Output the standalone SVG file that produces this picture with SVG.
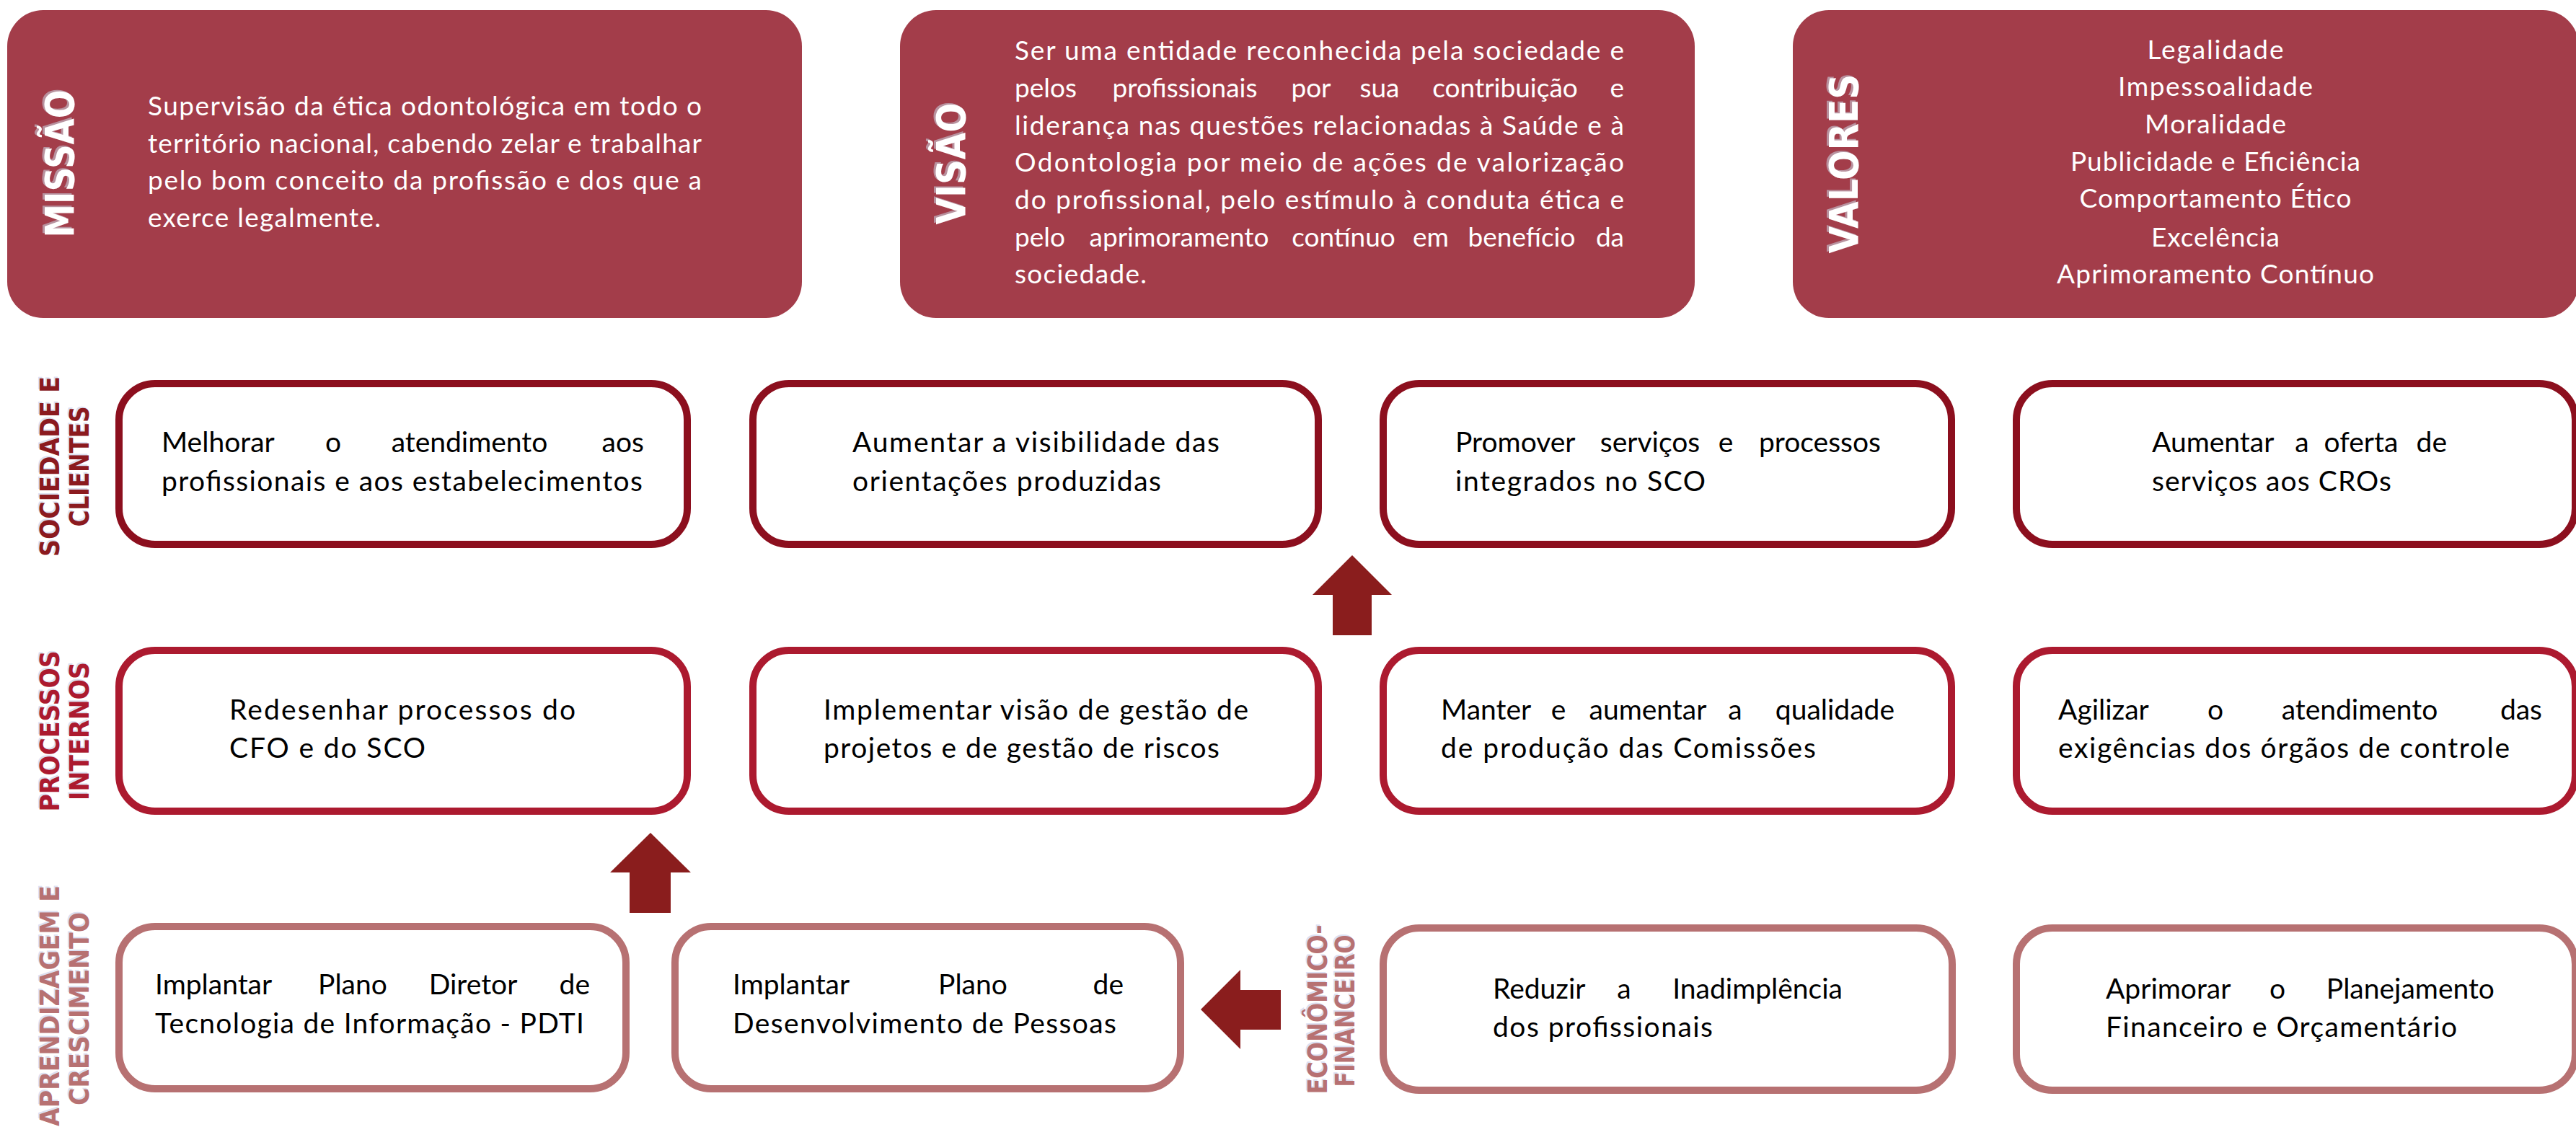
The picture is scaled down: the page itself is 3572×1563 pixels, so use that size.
<svg xmlns="http://www.w3.org/2000/svg" width="3572" height="1563" viewBox="0 0 3572 1563">
<style>
.top{fill:#A33D4A}
.b1{fill:#fff;stroke:#8C0F1E;stroke-width:10}
.b2{fill:#fff;stroke:#AC1A2F;stroke-width:10}
.b3{fill:#fff;stroke:#B77172;stroke-width:10}
.tw{font-family:Lato,"Open Sans","Liberation Sans",sans-serif;font-size:37px;fill:#fff}
.tb{font-family:Lato,"Open Sans","Liberation Sans",sans-serif;font-size:39px;fill:#000}
.m{text-anchor:middle}
.e{text-anchor:end}
.hl{font-family:"DejaVu Sans","Liberation Sans",sans-serif;font-weight:bold;font-size:56px;text-anchor:middle;fill:#fff}
.hls{font-family:"DejaVu Sans","Liberation Sans",sans-serif;font-weight:bold;font-size:56px;text-anchor:middle;fill:#B8929F}
.rl{font-family:"DejaVu Sans","Liberation Sans",sans-serif;font-weight:bold;font-size:37px;text-anchor:middle}
.rs{fill:#DCE0F2}
.c1{fill:#8B1A1F}
.c2{fill:#AC1A2F}
.c3{fill:#B77172}
.arrow{fill:#8A1D1D}
</style>

<!-- Top boxes -->
<g id="missao">
<rect class="top" x="10" y="14" width="1102" height="427" rx="50"/>
<text class="hls" transform="translate(99,225) rotate(-90)" textLength="205" lengthAdjust="spacingAndGlyphs">MISSÃO</text>
<text class="hl" transform="translate(102,227) rotate(-90)" textLength="205" lengthAdjust="spacingAndGlyphs">MISSÃO</text>
<text class="tw" x="205" y="160" textLength="768" lengthAdjust="spacing">Supervisão da ética odontológica em todo o</text>
<text class="tw" x="205" y="212" textLength="768" lengthAdjust="spacing">território nacional, cabendo zelar e trabalhar</text>
<text class="tw" x="205" y="263" textLength="768" lengthAdjust="spacing">pelo bom conceito da profissão e dos que a</text>
<text class="tw" x="205" y="315" textLength="323" lengthAdjust="spacing">exerce legalmente.</text>
</g>

<g id="visao">
<rect class="top" x="1248" y="14" width="1102" height="427" rx="50"/>
<text class="hls" transform="translate(1335,225) rotate(-90)" textLength="169" lengthAdjust="spacingAndGlyphs">VISÃO</text>
<text class="hl" transform="translate(1338,227) rotate(-90)" textLength="169" lengthAdjust="spacingAndGlyphs">VISÃO</text>
<text class="tw" x="1407" y="83" textLength="845" lengthAdjust="spacing">Ser uma entidade reconhecida pela sociedade e</text>
<text class="tw" x="1407" y="135">pelos</text>
<text class="tw m" x="1643" y="135">profissionais</text>
<text class="tw m" x="1818" y="135">por</text>
<text class="tw m" x="1913" y="135">sua</text>
<text class="tw m" x="2087" y="135">contribuição</text>
<text class="tw e" x="2252" y="135">e</text>
<text class="tw" x="1407" y="187" textLength="845" lengthAdjust="spacing">liderança nas questões relacionadas à Saúde e à</text>
<text class="tw" x="1407" y="238" textLength="845" lengthAdjust="spacing">Odontologia por meio de ações de valorização</text>
<text class="tw" x="1407" y="290" textLength="845" lengthAdjust="spacing">do profissional, pelo estímulo à conduta ética e</text>
<text class="tw" x="1407" y="342">pelo</text>
<text class="tw m" x="1635" y="342">aprimoramento</text>
<text class="tw m" x="1863" y="342">contínuo</text>
<text class="tw m" x="1984" y="342">em</text>
<text class="tw m" x="2110" y="342">benefício</text>
<text class="tw e" x="2252" y="342">da</text>
<text class="tw" x="1407" y="393" textLength="183" lengthAdjust="spacing">sociedade.</text>
</g>

<g id="valores">
<rect class="top" x="2486" y="14" width="1090" height="427" rx="50"/>
<text class="hls" transform="translate(2573,225) rotate(-90)" textLength="249" lengthAdjust="spacingAndGlyphs">VALORES</text>
<text class="hl" transform="translate(2576,227) rotate(-90)" textLength="249" lengthAdjust="spacingAndGlyphs">VALORES</text>
<text class="tw m" x="3072" y="82" textLength="189" lengthAdjust="spacing">Legalidade</text>
<text class="tw m" x="3072" y="133" textLength="270" lengthAdjust="spacing">Impessoalidade</text>
<text class="tw m" x="3072" y="185" textLength="196" lengthAdjust="spacing">Moralidade</text>
<text class="tw m" x="3072" y="237" textLength="402" lengthAdjust="spacing">Publicidade e Eficiência</text>
<text class="tw m" x="3072" y="288" textLength="377" lengthAdjust="spacing">Comportamento Ético</text>
<text class="tw m" x="3072" y="342" textLength="178" lengthAdjust="spacing">Excelência</text>
<text class="tw m" x="3072" y="393" textLength="440" lengthAdjust="spacing">Aprimoramento Contínuo</text>
</g>

<!-- Row labels -->
<g id="label-sociedade">
<text class="rl rs" transform="translate(80,645) rotate(-90)" textLength="250" lengthAdjust="spacingAndGlyphs">SOCIEDADE E</text>
<text class="rl c1" transform="translate(82,647) rotate(-90)" textLength="250" lengthAdjust="spacingAndGlyphs">SOCIEDADE E</text>
<text class="rl rs" transform="translate(121,645) rotate(-90)" textLength="167" lengthAdjust="spacingAndGlyphs">CLIENTES</text>
<text class="rl c1" transform="translate(123,647) rotate(-90)" textLength="167" lengthAdjust="spacingAndGlyphs">CLIENTES</text>
</g>
<g id="label-processos">
<text class="rl rs" transform="translate(80,1012) rotate(-90)" textLength="223" lengthAdjust="spacingAndGlyphs">PROCESSOS</text>
<text class="rl c2" transform="translate(82,1014) rotate(-90)" textLength="223" lengthAdjust="spacingAndGlyphs">PROCESSOS</text>
<text class="rl rs" transform="translate(121,1012) rotate(-90)" textLength="192" lengthAdjust="spacingAndGlyphs">INTERNOS</text>
<text class="rl c2" transform="translate(123,1014) rotate(-90)" textLength="192" lengthAdjust="spacingAndGlyphs">INTERNOS</text>
</g>
<g id="label-aprendizagem">
<text class="rl rs" transform="translate(80,1393) rotate(-90)" textLength="334" lengthAdjust="spacingAndGlyphs">APRENDIZAGEM E</text>
<text class="rl c3" transform="translate(82,1395) rotate(-90)" textLength="334" lengthAdjust="spacingAndGlyphs">APRENDIZAGEM E</text>
<text class="rl rs" transform="translate(121,1397) rotate(-90)" textLength="268" lengthAdjust="spacingAndGlyphs">CRESCIMENTO</text>
<text class="rl c3" transform="translate(123,1399) rotate(-90)" textLength="268" lengthAdjust="spacingAndGlyphs">CRESCIMENTO</text>
</g>
<g id="label-economico">
<text class="rl rs" transform="translate(1838,1398) rotate(-90)" textLength="235" lengthAdjust="spacingAndGlyphs">ECONÔMICO-</text>
<text class="rl c3" transform="translate(1840,1400) rotate(-90)" textLength="235" lengthAdjust="spacingAndGlyphs">ECONÔMICO-</text>
<text class="rl rs" transform="translate(1876,1400) rotate(-90)" textLength="211" lengthAdjust="spacingAndGlyphs">FINANCEIRO</text>
<text class="rl c3" transform="translate(1878,1402) rotate(-90)" textLength="211" lengthAdjust="spacingAndGlyphs">FINANCEIRO</text>
</g>

<!-- Row 1 -->
<g id="s1">
<rect class="b1" x="165" y="532" width="788" height="223" rx="50"/>
<text class="tb" x="224" y="627">Melhorar</text>
<text class="tb m" x="462" y="627">o</text>
<text class="tb m" x="651" y="627">atendimento</text>
<text class="tb e" x="893" y="627">aos</text>
<text class="tb" x="224" y="681" textLength="667" lengthAdjust="spacing">profissionais e aos estabelecimentos</text>
</g>
<g id="s2">
<rect class="b1" x="1044" y="532" width="784" height="223" rx="50"/>
<text class="tb" x="1182" y="627" textLength="509" lengthAdjust="spacing">Aumentar a visibilidade das</text>
<text class="tb" x="1182" y="681" textLength="428" lengthAdjust="spacing">orientações produzidas</text>
</g>
<g id="s3">
<rect class="b1" x="1918" y="532" width="788" height="223" rx="50"/>
<text class="tb" x="2018" y="627">Promover</text>
<text class="tb m" x="2288" y="627">serviços</text>
<text class="tb m" x="2393" y="627">e</text>
<text class="tb e" x="2608" y="627">processos</text>
<text class="tb" x="2018" y="681" textLength="347" lengthAdjust="spacing">integrados no SCO</text>
</g>
<g id="s4">
<rect class="b1" x="2796" y="532" width="775" height="223" rx="50"/>
<text class="tb" x="2984" y="627">Aumentar</text>
<text class="tb m" x="3192" y="627">a</text>
<text class="tb m" x="3274" y="627">oferta</text>
<text class="tb e" x="3393" y="627">de</text>
<text class="tb" x="2984" y="681" textLength="332" lengthAdjust="spacing">serviços aos CROs</text>
</g>

<!-- Row 2 -->
<g id="p1">
<rect class="b2" x="165" y="902" width="788" height="223" rx="50"/>
<text class="tb" x="318" y="998" textLength="480" lengthAdjust="spacing">Redesenhar processos do</text>
<text class="tb" x="318" y="1051" textLength="272" lengthAdjust="spacing">CFO e do SCO</text>
</g>
<g id="p2">
<rect class="b2" x="1044" y="902" width="784" height="223" rx="50"/>
<text class="tb" x="1142" y="998" textLength="589" lengthAdjust="spacing">Implementar visão de gestão de</text>
<text class="tb" x="1142" y="1051" textLength="549" lengthAdjust="spacing">projetos e de gestão de riscos</text>
</g>
<g id="p3">
<rect class="b2" x="1918" y="902" width="788" height="223" rx="50"/>
<text class="tb" x="1998" y="998">Manter</text>
<text class="tb m" x="2161" y="998">e</text>
<text class="tb m" x="2285" y="998">aumentar</text>
<text class="tb m" x="2406" y="998">a</text>
<text class="tb e" x="2627" y="998">qualidade</text>
<text class="tb" x="1998" y="1051" textLength="520" lengthAdjust="spacing">de produção das Comissões</text>
</g>
<g id="p4">
<rect class="b2" x="2796" y="902" width="775" height="223" rx="50"/>
<text class="tb" x="2854" y="998">Agilizar</text>
<text class="tb m" x="3072" y="998">o</text>
<text class="tb m" x="3272" y="998">atendimento</text>
<text class="tb e" x="3525" y="998">das</text>
<text class="tb" x="2854" y="1051" textLength="626" lengthAdjust="spacing">exigências dos órgãos de controle</text>
</g>

<!-- Row 3 -->
<g id="a1">
<rect class="b3" x="165" y="1285" width="703" height="225" rx="50"/>
<text class="tb" x="215" y="1379">Implantar</text>
<text class="tb m" x="489" y="1379">Plano</text>
<text class="tb m" x="656" y="1379">Diretor</text>
<text class="tb e" x="818" y="1379">de</text>
<text class="tb" x="215" y="1433" textLength="595" lengthAdjust="spacing">Tecnologia de Informação - PDTI</text>
</g>
<g id="a2">
<rect class="b3" x="936" y="1285" width="701" height="225" rx="50"/>
<text class="tb" x="1016" y="1379">Implantar</text>
<text class="tb m" x="1349" y="1379">Plano</text>
<text class="tb e" x="1558" y="1379">de</text>
<text class="tb" x="1016" y="1433" textLength="532" lengthAdjust="spacing">Desenvolvimento de Pessoas</text>
</g>
<g id="f1">
<rect class="b3" x="1918" y="1287" width="789" height="225" rx="50"/>
<text class="tb" x="2070" y="1385">Reduzir</text>
<text class="tb m" x="2252" y="1385">a</text>
<text class="tb e" x="2555" y="1385">Inadimplência</text>
<text class="tb" x="2070" y="1438" textLength="305" lengthAdjust="spacing">dos profissionais</text>
</g>
<g id="f2">
<rect class="b3" x="2796" y="1287" width="775" height="225" rx="50"/>
<text class="tb" x="2920" y="1385">Aprimorar</text>
<text class="tb m" x="3158" y="1385">o</text>
<text class="tb e" x="3459" y="1385">Planejamento</text>
<text class="tb" x="2920" y="1438" textLength="487" lengthAdjust="spacing">Financeiro e Orçamentário</text>
</g>

<!-- Connectors -->
<g id="connectors">
<polygon class="arrow" points="1875,770 1930,825 1902,825 1902,881 1848,881 1848,825 1820,825"/>
<polygon class="arrow" points="902,1155 958,1210 930,1210 930,1266 873,1266 873,1210 846,1210"/>
<polygon class="arrow" points="1665,1400 1720,1345 1720,1373 1776,1373 1776,1428 1720,1428 1720,1455"/>
</g>
</svg>
